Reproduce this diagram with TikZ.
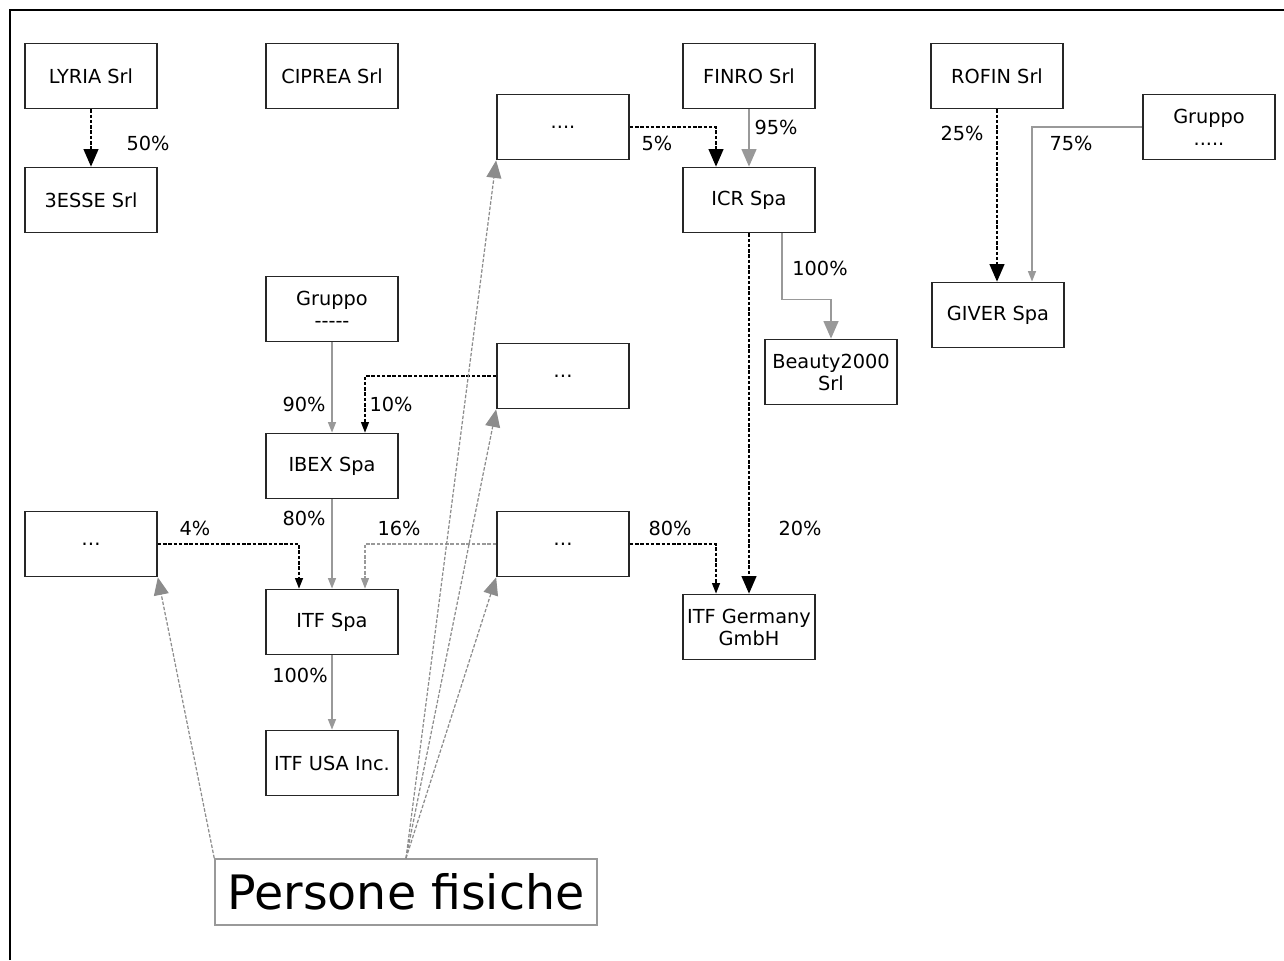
\documentclass[tikz,border=0pt]{standalone}
\usepackage{fontspec}
\setmainfont{DejaVu Sans}
\usetikzlibrary{arrows.meta}
\begin{document}
\begin{tikzpicture}
	[x=0.02cm,y=-0.02cm,
	 box/.style={rectangle,draw=black!85,line width=1pt,inner xsep=1pt,minimum width=2.64cm,minimum height=1.3cm,align=center,font=\fontsize{11}{12.5}\selectfont},
	 pct/.style={inner sep=0pt,font=\fontsize{11}{12.5}\selectfont},
	 blk/.style={draw=black,line width=0.8pt,dash pattern=on 2pt off 1pt,-{Triangle[length=10pt,width=8.5pt]}},
	 blks/.style={draw=black,line width=0.8pt,dash pattern=on 2pt off 1pt,-{Triangle[length=6pt,width=4.5pt]}},
	 gry/.style={draw=black!40,line width=0.9pt,-{Triangle[length=10pt,width=8.5pt]}},
	 grys/.style={draw=black!40,line width=0.9pt,-{Triangle[length=6pt,width=4.5pt]}},
	 gryd/.style={draw=black!40,line width=0.7pt,dash pattern=on 2pt off 1pt,-{Triangle[length=6pt,width=4.5pt]}},
	 pers/.style={draw=black!45,line width=0.7pt,dash pattern=on 2pt off 1pt,-{Triangle[length=10pt,width=8.5pt]}}]

	\useasboundingbox (0,0) rectangle (1284,960);
	\draw[line width=1.7pt] (10,960) -- (10,10) -- (1284,10);

	\node[box] (lyria) at (91,76) {LYRIA Srl};
	\node[box] (tresse) at (91,200) {3ESSE Srl};
	\node[box] (ciprea) at (332,76) {CIPREA Srl};
	\node[box] (finro) at (749,76) {FINRO Srl};
	\node[box] (rofin) at (997,76) {ROFIN Srl};
	\node[box] (dotsA) at (563,127) {....};
	\node[box] (icr) at (749,200) {ICR Spa};
	\node[box] (gruppoR) at (1209,127) {Gruppo\\.....};
	\node[box] (giver) at (998,315) {GIVER Spa};
	\node[box] (beauty) at (831,372) {Beauty2000\\Srl};
	\node[box] (gruppoL) at (332,309) {Gruppo\\{-}{-}{-}{-}{-}};
	\node[box] (dotsB) at (563,376) {…};
	\node[box] (ibex) at (332,466) {IBEX Spa};
	\node[box] (dotsL) at (91,544) {…};
	\node[box] (dotsR) at (563,544) {…};
	\node[box] (itf) at (332,622) {ITF Spa};
	\node[box] (itfger) at (749,627) {ITF Germany\\GmbH};
	\node[box] (itfusa) at (332,763) {ITF USA Inc.};
	\node[rectangle,draw=black!40,line width=0.9pt,minimum width=7.64cm,minimum height=1.32cm,font=\fontsize{27}{30}\selectfont] (persone) at (406,892) {Persone fisiche};

	\node[pct] (p50) at (148,143) {50\%};
	\node[pct] (p5) at (657,143) {5\%};
	\node[pct] (p95) at (776,127) {95\%};
	\node[pct] (p25) at (962,133) {25\%};
	\node[pct] (p75) at (1071,143) {75\%};
	\node[pct] (p100b) at (820,268) {100\%};
	\node[pct] (p90) at (304,404) {90\%};
	\node[pct] (p10) at (391,404) {10\%};
	\node[pct] (p80a) at (304,518) {80\%};
	\node[pct] (p4) at (195,528) {4\%};
	\node[pct] (p16) at (399,528) {16\%};
	\node[pct] (p80b) at (670,528) {80\%};
	\node[pct] (p20) at (800,528) {20\%};
	\node[pct] (p100u) at (300,675) {100\%};

	\draw[blk] (lyria) -- (tresse);
	\draw[blk] (dotsA.east) -| ([xshift=-0.66cm]icr.north);
	\draw[gry] (finro) -- (icr);
	\draw[blk] (rofin) -- (giver.north -| rofin);
	\draw[grys] (gruppoR.west) -| ([xshift=0.68cm]giver.north);
	\draw[gry] ([xshift=0.66cm]icr.south) -- ++(0,66) -| (beauty.north);
	\draw[blk] (icr) -- (itfger);
	\draw[grys] (gruppoL) -- (ibex);
	\draw[blks] (dotsB.west) -| ([xshift=0.66cm]ibex.north);
	\draw[grys] (ibex) -- (itf);
	\draw[blks] (dotsL.east) -| ([xshift=-0.66cm]itf.north);
	\draw[gryd] (dotsR.west) -| ([xshift=0.66cm]itf.north);
	\draw[blks] (dotsR.east) -| ([xshift=-0.66cm]itfger.north);
	\draw[grys] (itf) -- (itfusa);

	\draw[pers] (persone.north west) -- (dotsL.south east);
	\draw[pers] (persone.north) -- (dotsA.south west);
	\draw[pers] (persone.north) -- (dotsB.south west);
	\draw[pers] (persone.north) -- (dotsR.south west);
\end{tikzpicture}
\end{document}
